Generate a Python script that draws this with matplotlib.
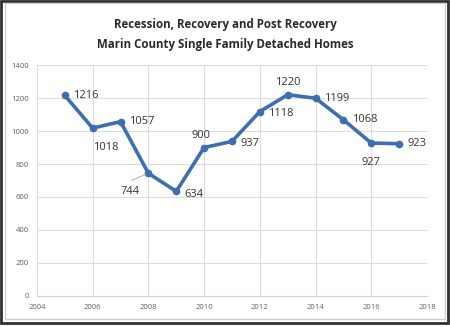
import matplotlib
matplotlib.use("Agg")
import matplotlib.pyplot as plt
from matplotlib.patches import Rectangle

years = [2005, 2006, 2007, 2008, 2009, 2010, 2011, 2012, 2013, 2014, 2015, 2016, 2017]
homes = [1216, 1018, 1057, 744, 634, 900, 937, 1118, 1220, 1199, 1068, 927, 923]
x_ticks = [2004, 2006, 2008, 2010, 2012, 2014, 2016, 2018]
y_ticks = [0, 200, 400, 600, 800, 1000, 1200, 1400]
title = "Recession, Recovery and Post Recovery\nMarin County Single Family Detached Homes"

# label offsets in points (dx, dy)
offsets = [(6, 0), (0, -14), (6, 0), (-6, -13), (6, -2), (-2, 9), (6, -1.5),
           (6, -1.5), (0, 9), (6, 0), (6, 0), (0, -14), (6, 0)]

plt.rcParams['font.family'] = ['Open Sans', 'DejaVu Sans']

fig = plt.figure(figsize=(4.5, 3.27), dpi=100)
ax = fig.add_axes([0.082, 0.095, 0.867, 0.706])

line_color = '#3d6fb0'
ax.plot(years, homes, color=line_color, lw=2.6, marker='o', ms=4.5, zorder=3)

for x, y, (dx, dy) in zip(years, homes, offsets):
    ha = 'left' if dx > 0 else ('right' if dx < -3 else 'center')
    if (dx, dy) == (0, -14):
        ha = 'left' if x == 2006 else 'center'
    ax.annotate(str(y), (x, y), xytext=(dx, dy), textcoords='offset points',
                fontsize=8, color='#333333', ha=ha, va='center')

# leader line for 744
ax.annotate('', (2008, 744), xytext=(-14, -6), textcoords='offset points',
            arrowprops=dict(arrowstyle='-', color='#a0a0a0', lw=0.6))

ax.set_xlim(2004, 2018)
ax.set_ylim(0, 1400)
ax.set_xticks(x_ticks)
ax.set_yticks(y_ticks)
ax.tick_params(labelsize=5.5, colors='#606060', length=0, pad=6)
ax.grid(True, color='#dcdcdc', lw=0.8)
ax.set_axisbelow(True)
for s in ['top', 'right', 'left']:
    ax.spines[s].set_visible(False)
ax.spines['bottom'].set_color('#d0d0d0')

fig.text(0.5, 0.895, title, ha='center', va='center', fontsize=8.3,
         fontweight='bold', color='#2a2a2a', linespacing=1.65)

# frames
fig.add_artist(Rectangle((0.002, 0.012), 0.994, 0.985, transform=fig.transFigure,
                         fill=False, ec='#303030', lw=2.0))
fig.add_artist(Rectangle((0.012, 0.025), 0.978, 0.965, transform=fig.transFigure,
                         fill=False, ec='#cfcfcf', lw=1.0))

fig.savefig('out.png', dpi=100)
